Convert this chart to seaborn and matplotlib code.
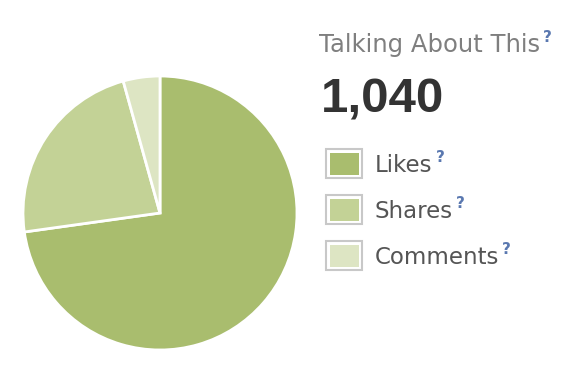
import matplotlib
matplotlib.use("Agg")
import matplotlib.pyplot as plt
from matplotlib.patches import Rectangle
import seaborn as sns

# data
categories = ["Likes", "Shares", "Comments"]
counts = [757, 238, 45]
total_label = "1,040"
title = "Talking About This"
colors = ["#a9bd6e", "#c3d296", "#dde5c3"]

sns.set_style("white")
plt.rcParams["font.family"] = ["DejaVu Sans"]

W, H = 578, 383
fig = plt.figure(figsize=(W / 100, H / 100), dpi=100)
fig.patch.set_facecolor("white")


def fx(x):
    return x / W


def fy(y):
    return 1 - y / H


# pie: centre (160, 213), radius 137 px
cx, cy, r = 160, 213, 137
ax = fig.add_axes([fx(cx - r), fy(cy + r), 2 * r / W, 2 * r / H])
palette = sns.color_palette(colors)
ax.pie(counts, colors=palette, startangle=90, counterclock=False,
       wedgeprops=dict(edgecolor="white", linewidth=2))
ax.set_xlim(-1, 1)
ax.set_ylim(-1, 1)
ax.set_aspect("auto")
ax.axis("off")

qcolor = "#5a78b0"
renderer = fig.canvas.get_renderer()


def add_question(txt, dx=4, dy=-2):
    bb = txt.get_window_extent(renderer)
    fig.text(bb.x1 / W + dx / W, bb.y1 / H + dy / H, "?", color=qcolor,
             fontsize=11, fontweight="bold", va="top", ha="left")


# heading
t = fig.text(fx(319), fy(52), title, fontsize=17.5, color="#7f7f7f",
             va="baseline", ha="left")
add_question(t, dx=3, dy=3)

fig.text(fx(321), fy(112), total_label, fontsize=35.5, fontweight="bold",
         color="#333333", va="baseline", ha="left", family="Liberation Sans")

# legend boxes
for i, (lab, col) in enumerate(zip(categories, palette)):
    top = 149 + i * 46
    fig.patches.append(Rectangle((fx(326), fy(top + 29)), 36 / W, 29 / H,
                                 transform=fig.transFigure, facecolor="white",
                                 edgecolor="#c8c8c8", linewidth=1.5))
    fig.patches.append(Rectangle((fx(330), fy(top + 26)), 29 / W, 22 / H,
                                 transform=fig.transFigure, facecolor=col,
                                 edgecolor="none"))
    lt = fig.text(fx(375), fy(top + 23), lab, fontsize=16.5, color="#555555",
                  va="baseline", ha="left")
    add_question(lt, dx=3, dy=4)

fig.savefig("out.png", dpi=100, facecolor="white")
